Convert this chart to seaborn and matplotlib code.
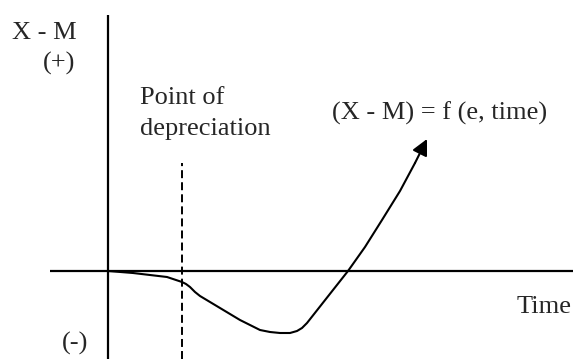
import numpy as np
import pandas as pd
import seaborn as sns
import matplotlib.pyplot as plt

sns.set_theme(style="white")
plt.rcParams['font.family'] = ['Liberation Serif', 'DejaVu Serif']

# J-curve: time vs (X - M)
time = [0, 2.5, 5.9, 7.4, 7.8, 8.2, 8.7, 9.2, 10.2, 11.2, 13.2, 15.2, 16.2, 17.2,
        18.2, 18.9, 19.4, 19.9, 22.5, 24.0, 25.7, 27.4, 29.2, 30.7, 31.9]
x_minus_m = [0, -0.2, -0.6, -1.1, -1.3, -1.6, -2.1, -2.5, -3.1, -3.7, -4.9, -5.9, -6.1, -6.2,
             -6.2, -6.0, -5.7, -5.2, -1.9, 0, 2.4, 5.1, 8.0, 10.8, 13.2]

depreciation_time = 7.4
depreciation_top = 10.8

x_range = (-10.8, 46.5)
y_range = (-8.8, 27.1)
h_axis_start = -5.8
v_axis_top = 25.6

df = pd.DataFrame({"time": time, "xm": x_minus_m})

fig = plt.figure(figsize=(5.73, 3.59), dpi=100)
ax = fig.add_axes([0, 0, 1, 1])
ax.set_xlim(*x_range)
ax.set_ylim(*y_range)
ax.axis("off")

# axes of the diagram
ax.plot([0, 0], [y_range[0], v_axis_top], color="black", lw=1.6, solid_capstyle="butt")
ax.plot([h_axis_start, x_range[1]], [0, 0], color="black", lw=1.6, solid_capstyle="butt")

# point of depreciation
ax.plot([depreciation_time, depreciation_time], [y_range[0], depreciation_top],
        color="black", lw=1.4, linestyle=(0, (4.1, 2.1)))

# the curve
sns.lineplot(data=df.iloc[:-1], x="time", y="xm", sort=False, color="black",
             lw=1.5, ax=ax, legend=False)
ax.annotate("", xy=(time[-1], x_minus_m[-1]), xytext=(time[-2], x_minus_m[-2]),
            arrowprops=dict(arrowstyle="-|>", color="black", lw=1.5,
                            mutation_scale=24, shrinkA=0, shrinkB=0))

fs = 19
ax.text(-9.6, 23.2, "X - M", fontsize=fs, va="baseline", ha="left")
ax.text(-6.5, 20.1, "(+)", fontsize=fs, va="baseline", ha="left")
ax.text(-4.6, -7.9, "(-)", fontsize=fs, va="baseline", ha="left")
ax.text(3.2, 16.7, "Point of", fontsize=fs, va="baseline", ha="left")
ax.text(3.2, 13.6, "depreciation", fontsize=fs, va="baseline", ha="left")
ax.text(22.4, 15.1, "(X - M) = f (e, time)", fontsize=fs, va="baseline", ha="left")
ax.text(40.9, -4.2, "Time", fontsize=fs, va="baseline", ha="left")

fig.savefig("out.png", dpi=100)
